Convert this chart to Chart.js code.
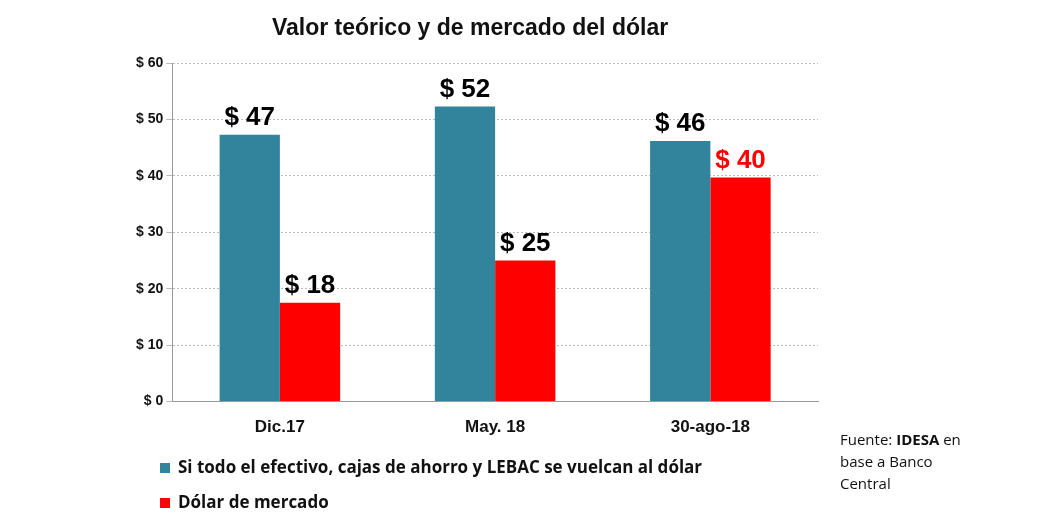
<!DOCTYPE html>
<html><head><meta charset="utf-8">
<script src="https://cdn.jsdelivr.net/npm/chart.js@4"></script>
<style>
body{margin:0;background:#fff;font-family:Arial,"Liberation Sans",sans-serif;}
#wrap{position:relative;width:1038px;height:527px;}
#title{position:absolute;left:0;width:940px;top:14px;text-align:center;font-weight:bold;font-size:23px;color:#111;}
.leg{position:absolute;left:160px;font-size:17px;font-weight:bold;color:#111;font-family:"Open Sans",sans-serif;}
.leg span{display:inline-block;width:10px;height:10px;margin-right:8px;}
#src{position:absolute;left:840px;top:428px;font-size:15px;line-height:22px;color:#111;font-family:"Open Sans",sans-serif;}
</style></head><body>
<div id="wrap">
<canvas id="chart" width="1038" height="527"></canvas>
<div id="title">Valor teórico y de mercado del dólar</div>
<div class="leg" style="top:455px"><span style="background:#31849b"></span>Si todo el efectivo, cajas de ahorro y LEBAC se vuelcan al dólar</div>
<div class="leg" style="top:490px"><span style="background:#ff0000"></span>Dólar de mercado</div>
<div id="src">Fuente: <b>IDESA</b> en<br>base a Banco<br>Central</div>
</div>
<script>
var categories = ['Dic.17', 'May. 18', '30-ago-18'];
var teorico = [47.3, 52.3, 46.2];
var mercado = [17.5, 25, 39.7];
var teoricoLabels = ['$ 47', '$ 52', '$ 46'];
var mercadoLabels = ['$ 18', '$ 25', '$ 40'];

var labelPlugin = {
    id: 'barLabels',
    afterDatasetsDraw: function(chart) {
        var ctx = chart.ctx;
        ctx.save();
        ctx.font = 'bold 26px Arial';
        ctx.textAlign = 'center';
        ctx.textBaseline = 'bottom';
        chart.data.datasets.forEach(function(ds, di) {
            chart.getDatasetMeta(di).data.forEach(function(bar, i) {
                ctx.fillStyle = (di === 1 && i === 2) ? '#ff0000' : '#000';
                ctx.fillText(ds.valueLabels[i], bar.x, bar.y - 4);
            });
        });
        ctx.restore();
    }
};

new Chart(document.getElementById('chart'), {
    type: 'bar',
    data: {
        labels: categories,
        datasets: [
            { data: teorico, valueLabels: teoricoLabels, backgroundColor: '#31849b' },
            { data: mercado, valueLabels: mercadoLabels, backgroundColor: '#ff0000' }
        ]
    },
    options: {
        responsive: false,
        animation: false,
        layout: { padding: { left: 133, right: 220, top: 63, bottom: 81 } },
        categoryPercentage: 0.56,
        barPercentage: 1.0,
        plugins: { legend: { display: false }, tooltip: { enabled: false } },
        scales: {
            x: {
                grid: { display: false, drawTicks: true },
                border: { color: '#999' },
                ticks: { color: '#111', font: { weight: 'bold', size: 17, family: 'Arial' }, padding: 8 }
            },
            y: {
                min: 0, max: 60,
                ticks: { stepSize: 10, color: '#111', font: { weight: 'bold', size: 14, family: 'Arial' },
                    callback: function(v) { return '$ ' + v; } },
                grid: { color: '#bbb', tickLength: 6 },
                border: { color: '#999', dash: [2, 2] }
            }
        }
    },
    plugins: [labelPlugin]
});
</script>
</body></html>
